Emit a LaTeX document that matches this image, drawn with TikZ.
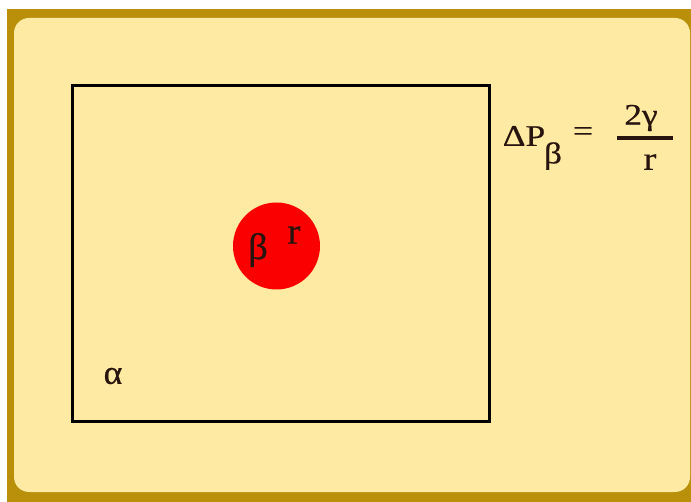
\documentclass[tikz,border=0pt]{standalone}
\usepackage{fontspec}
\usepackage{xcolor}
\setmainfont{Liberation Serif}
\newfontfamily\eqfont[FakeStretch=1.18, FakeBold=0.6]{Liberation Serif}
\newfontfamily\labfont[FakeStretch=1.05, FakeBold=0.6]{Liberation Serif}
\usetikzlibrary{positioning}
\definecolor{frameGold}{RGB}{186,144,10}
\definecolor{paperYellow}{RGB}{254,234,162}
\definecolor{dropRed}{RGB}{250,0,0}
\definecolor{inkDark}{RGB}{40,20,15}

\begin{document}
\begin{tikzpicture}[x=1pt, y=-1pt,
    phase/.style={draw=black, line width=3pt, minimum width=417pt,
                  minimum height=336pt, inner sep=0pt},
    drop/.style={circle, fill=dropRed, minimum size=87pt, inner sep=0pt},
    sym/.style={font=\labfont\fontsize{37}{39}\selectfont, text=inkDark, inner sep=0pt},
    eqsym/.style={font=\eqfont\fontsize{30}{32}\selectfont, text=inkDark, inner sep=0pt}
  ]
    \useasboundingbox (0,0) rectangle (691,502);
    % frame and paper
    \fill[frameGold] (7,9) rectangle (691,502);
    \fill[paperYellow, rounded corners=15pt] (14,18) rectangle (690,492);
    % matrix phase alpha with a drop of beta
    \node[phase](mat)  at (280.5,254) {};
    \node[drop](bub)   at (276.5,246) {};
    \node[sym](beta)   at (258,250) {β};
    \node[sym](rad)    at (294,235) {r};
    \node[sym, font=\labfont\fontsize{34}{36}\selectfont](alpha) at (113,376) {α};
    % pressure relation
    \node[eqsym](dp)  at (524,136) {ΔP};
    \node[eqsym](sub) at (553,156) {β};
    \node[eqsym](eq)  at (583,134) {=};
    \coordinate (fl) at (617,138);
    \coordinate (fr) at (673,138);
    \draw[line width=3.5pt, inkDark] (fl) -- (fr);
    \node[eqsym](num) at (641,118) {2γ};
    \node[eqsym, font=\eqfont\fontsize{33}{35}\selectfont](den) at (650,162) {r};
  \end{tikzpicture}
\end{document}
